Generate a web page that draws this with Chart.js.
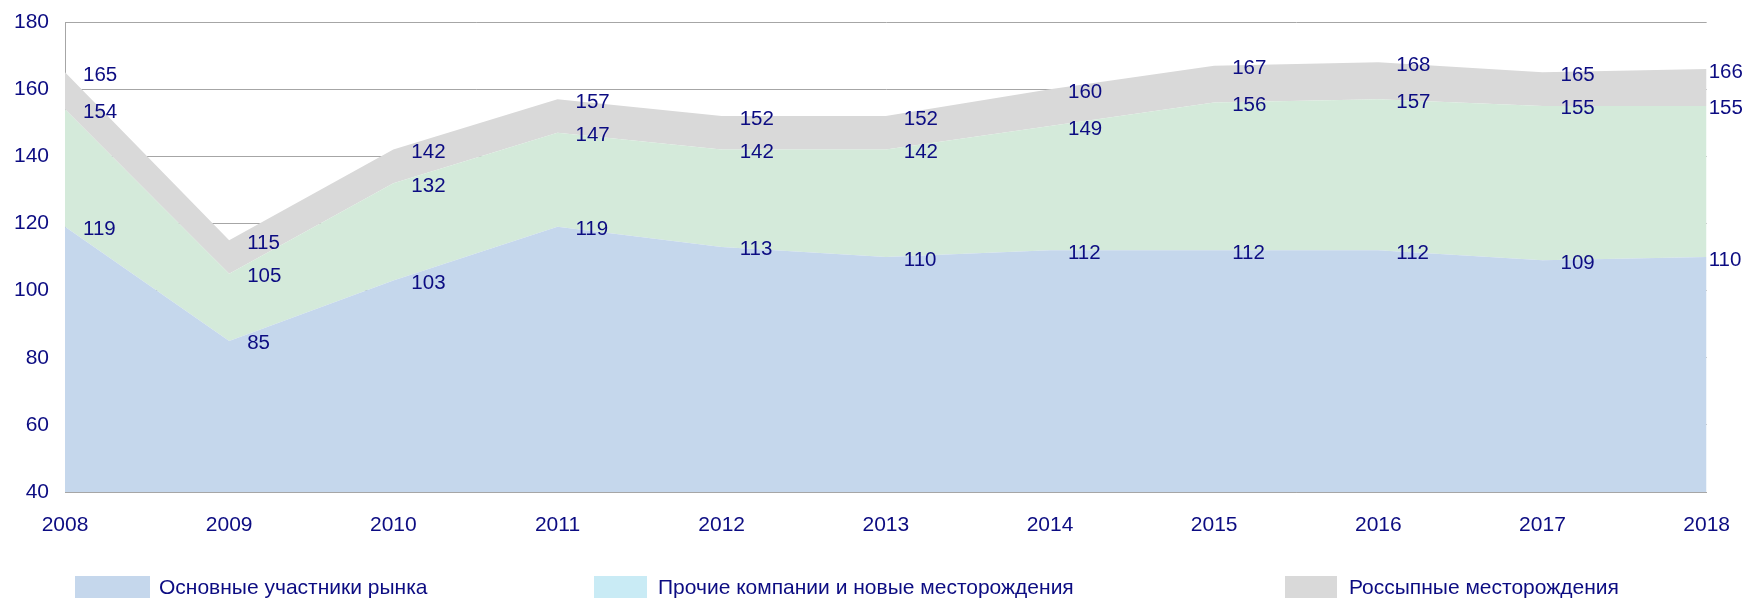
<!DOCTYPE html>
<html>
<head>
<meta charset="utf-8">
<script src="https://cdn.jsdelivr.net/npm/chart.js@4/dist/chart.umd.min.js"></script>
<style>
  body { margin: 0; background: #fff; }
</style>
</head>
<body>
<canvas id="myChart" width="1751" height="598"></canvas>
<script>
var years = ["2008", "2009", "2010", "2011", "2012", "2013", "2014", "2015", "2016", "2017", "2018"];
// values are cumulative levels as labelled on the chart
var mainPlayers = [119, 85, 103, 119, 113, 110, 112, 112, 112, 109, 110];
var withOthers = [154, 105, 132, 147, 142, 142, 149, 156, 157, 155, 155];
var withPlacers = [165, 115, 142, 157, 152, 152, 160, 167, 168, 165, 166];
var yTicks = [40, 60, 80, 100, 120, 140, 160, 180];
var seriesNames = ["Основные участники рынка", "Прочие компании и новые месторождения", "Россыпные месторождения"];

var navy = "#0c0c82";
var family = '"Liberation Sans", Arial, sans-serif';
var fillColors = ["#c5d7ec", "#d4eada", "#d9d9d9"];
var legendColors = ["#c5d7ec", "#c9ebf5", "#d9d9d9"];

// value labels to the right of each point
var valueLabels = {
    id: "valueLabels",
    afterDatasetsDraw: function (chart) {
        var ctx = chart.ctx;
        ctx.save();
        ctx.font = "20.5px " + family;
        ctx.fillStyle = navy;
        ctx.textAlign = "left";
        ctx.textBaseline = "alphabetic";
        chart.data.datasets.forEach(function (ds, i) {
            var meta = chart.getDatasetMeta(i);
            meta.data.forEach(function (pt, j) {
                var last = j === meta.data.length - 1;
                var dx = last ? 2 : 18;
                ctx.fillText(String(ds.data[j]), pt.x + dx, pt.y + 8.5);
            });
        });
        ctx.restore();
    },
};

// legend laid out like the original
var bottomLegend = {
    id: "bottomLegend",
    afterDraw: function (chart) {
        var ctx = chart.ctx;
        var boxX = [75, 594, 1285];
        var boxW = [75, 53, 52];
        var textX = [159, 658, 1349];
        ctx.save();
        ctx.font = "21px " + family;
        ctx.textBaseline = "alphabetic";
        ctx.textAlign = "left";
        seriesNames.forEach(function (name, i) {
            ctx.fillStyle = legendColors[i];
            ctx.fillRect(boxX[i], 576, boxW[i], 22);
            ctx.fillStyle = navy;
            ctx.fillText(name, textX[i], 594);
        });
        ctx.restore();
    },
};

var config = {
    type: "line",
    data: {
        labels: years,
        datasets: [
            { label: seriesNames[0], data: mainPlayers, backgroundColor: fillColors[0], fill: "start" },
            { label: seriesNames[1], data: withOthers, backgroundColor: fillColors[1], fill: "-1" },
            { label: seriesNames[2], data: withPlacers, backgroundColor: fillColors[2], fill: "-1" },
        ],
    },
    options: {
        responsive: false,
        animation: false,
        layout: { padding: { top: 22, right: 43, left: 0, bottom: 0 } },
        elements: {
            line: { borderWidth: 0, tension: 0 },
            point: { radius: 0, hoverRadius: 0 },
        },
        plugins: {
            legend: { display: false },
            tooltip: { enabled: false },
        },
        scales: {
            x: {
                offset: false,
                grid: { display: false, drawTicks: false },
                border: { display: true, color: "#a6a6a6", width: 1 },
                ticks: { color: navy, font: { family: family, size: 21 }, padding: 21, maxRotation: 0, autoSkip: false },
                afterFit: function (scale) { scale.height = 106; },
            },
            y: {
                min: 40,
                max: 180,
                afterBuildTicks: function (scale) {
                    scale.ticks = yTicks.map(function (v) { return { value: v }; });
                },
                grid: { color: "#a6a6a6", lineWidth: 1, drawTicks: false },
                border: { display: true, color: "#a6a6a6", width: 1 },
                ticks: { color: navy, font: { family: family, size: 21 }, padding: 16 },
                afterFit: function (scale) {
                    scale.width = 65;
                    scale.paddingTop = 0;
                    scale.paddingBottom = 0;
                },
            },
        },
    },
    plugins: [valueLabels, bottomLegend],
};

var ctx = document.getElementById("myChart");
window.myArea = new Chart(ctx, config);
</script>
</body>
</html>
